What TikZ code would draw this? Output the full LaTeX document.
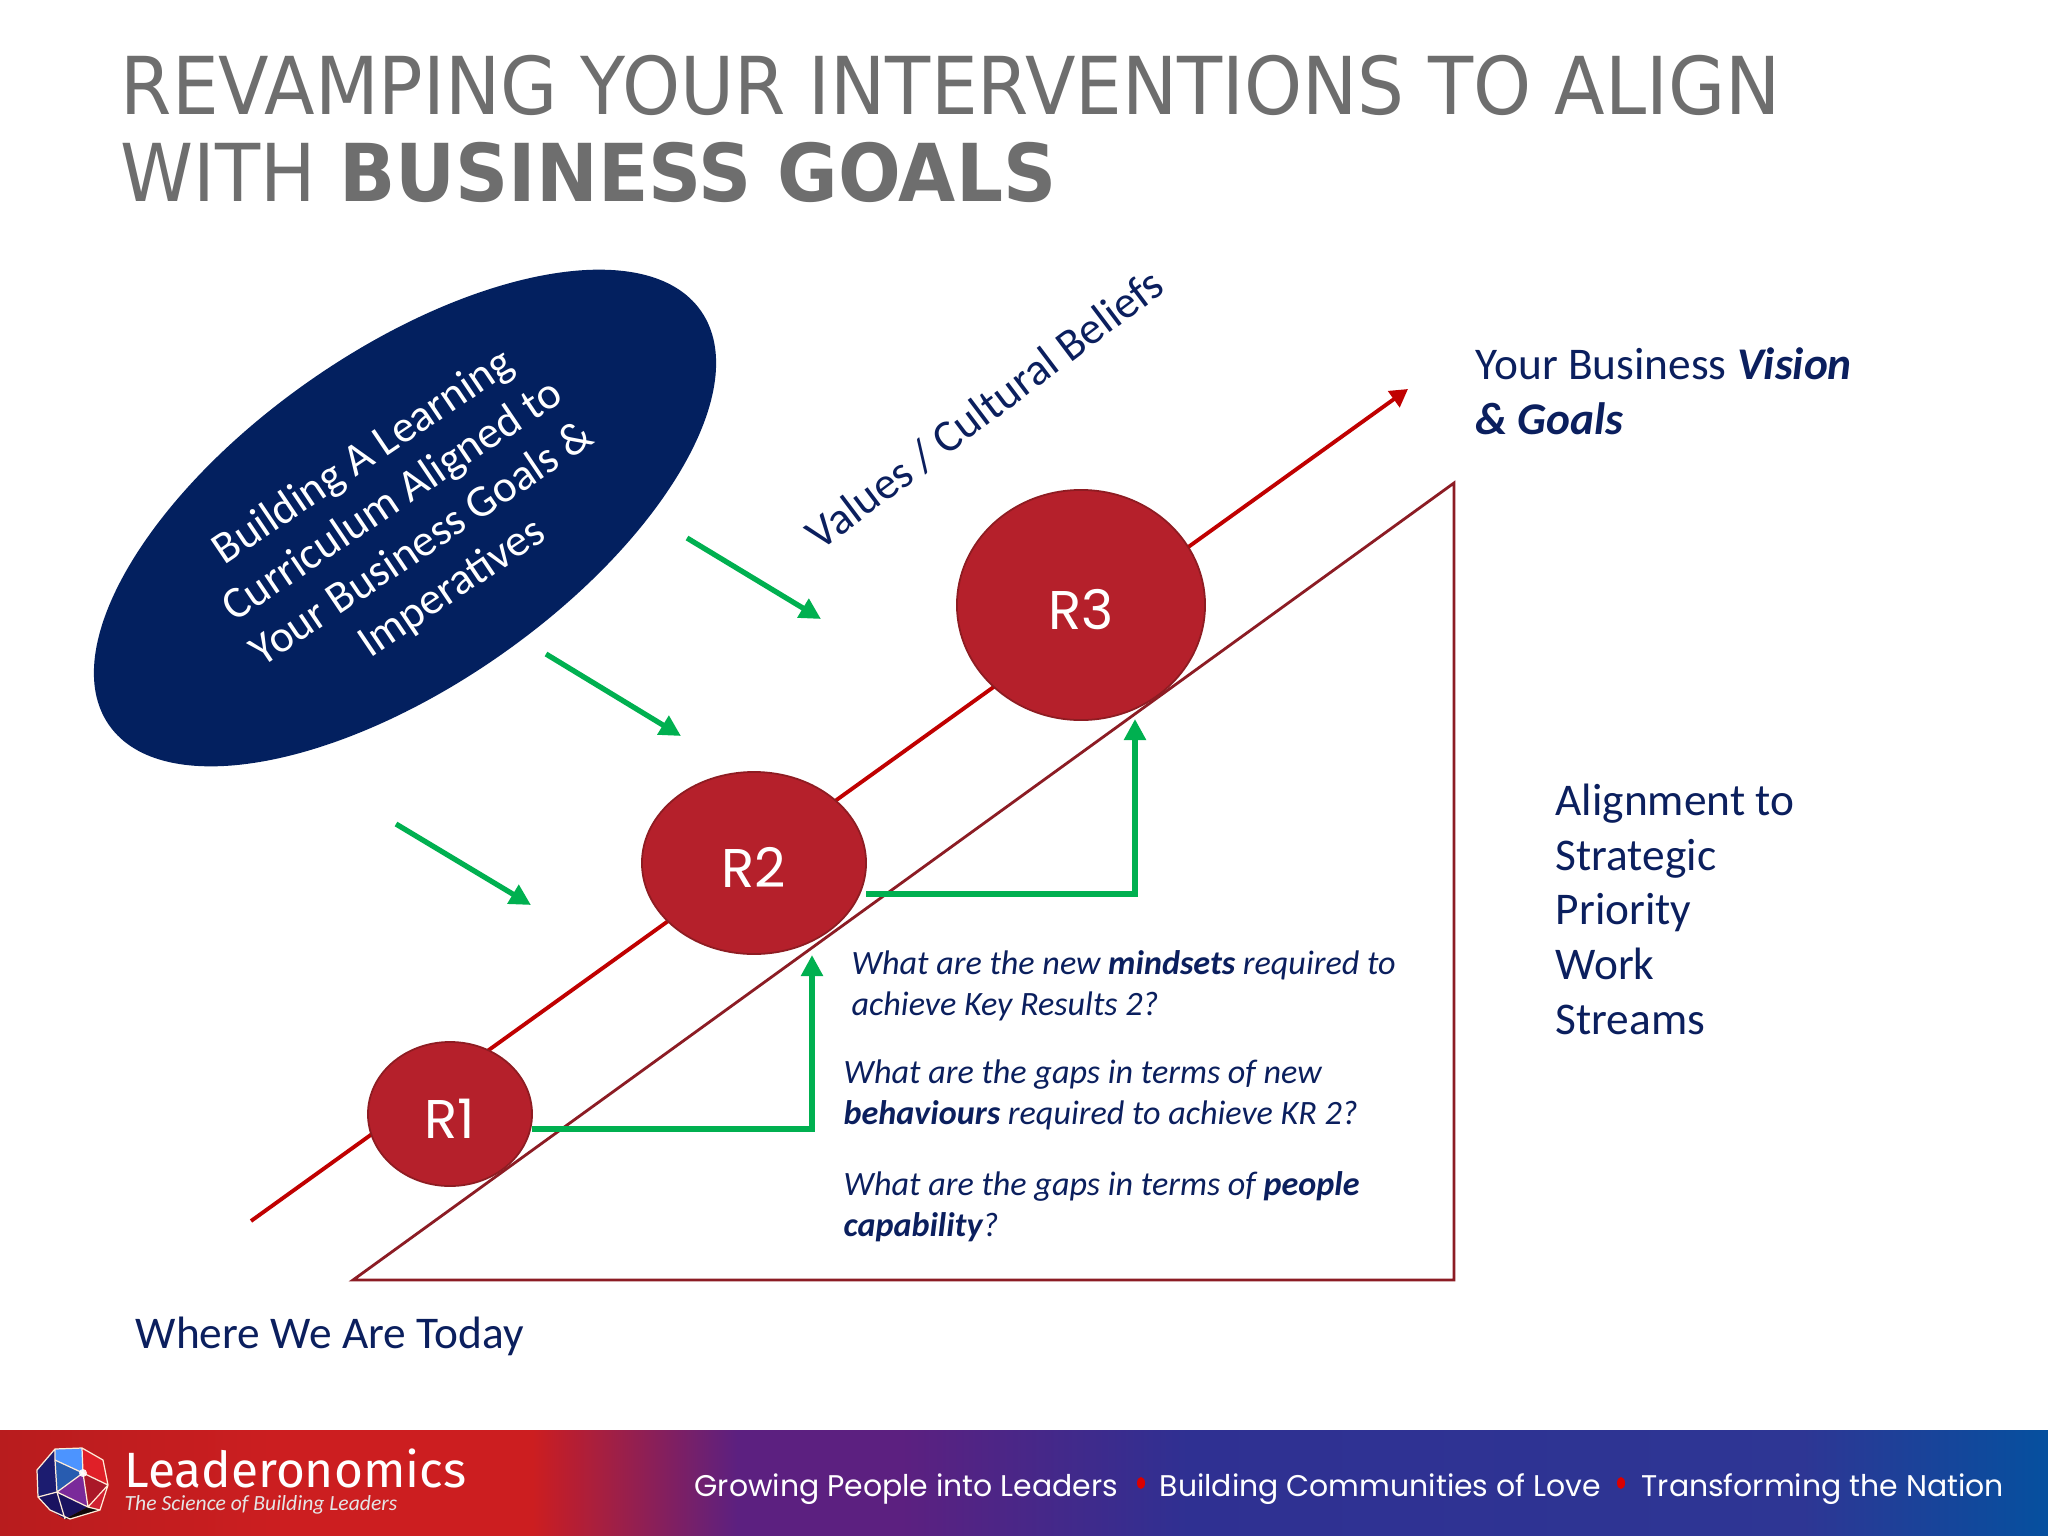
\documentclass[tikz,border=0pt]{standalone}
\usepackage{fontspec}
\setmainfont{Carlito}
\newfontfamily\titlefont[FakeStretch=0.925]{DejaVu Sans}
\newfontfamily\circfont{Poppins}
\newfontfamily\gothfont{Poppins}
\newfontfamily\logofont{Fira Sans}
\usetikzlibrary{arrows.meta,shapes.geometric}
\definecolor{navy}{HTML}{0B1F5E}
\definecolor{ellfill}{HTML}{03205F}
\definecolor{titlegray}{HTML}{6E6E6E}
\definecolor{circfill}{HTML}{B5202B}
\definecolor{circline}{HTML}{8E1C22}
\definecolor{lineRed}{HTML}{C00000}
\definecolor{triLine}{HTML}{8C1C24}
\definecolor{arrGreen}{HTML}{00B050}
\definecolor{fa}{HTML}{B81C1E}\definecolor{fb}{HTML}{CC1E20}\definecolor{fc}{HTML}{5C2080}\definecolor{fd}{HTML}{2F3092}\definecolor{fe}{HTML}{2E3694}\definecolor{ff}{HTML}{05509F}
\pgfdeclarehorizontalshading{footgrad}{100bp}{color(0bp)=(fa); color(25bp)=(fa); color(32bp)=(fb); color(38bp)=(fb); color(43bp)=(fc); color(47bp)=(fc); color(54bp)=(fd); color(69bp)=(fe); color(75bp)=(ff); color(100bp)=(ff)}
\newcommand{\circlabel}[1]{\smash{\raisebox{-6.9pt}{#1}}}
\tikzset{
 px/.style={x=0.01cm,y=-0.01cm},
 circ/.style={ellipse,draw=circline,fill=circfill,line width=0.5pt,inner sep=0pt,text=white,font=\circfont\fontsize{15.5}{18}\selectfont},
 bodytext/.style={text=navy,align=left,inner sep=0pt,anchor=north west},
 smalltext/.style={bodytext,font=\fontsize{9.7}{11.6}\selectfont\itshape},
 bigtext/.style={bodytext,font=\fontsize{12.9}{15.6}\selectfont},
 greenarrow/.style={draw=arrGreen,line width=1.5pt,-{Triangle[length=6pt,width=6pt]}},
 foot/.style={text=white,inner sep=0pt,anchor=base west,font=\gothfont\fontsize{8.5}{10}\selectfont}
}
\begin{document}
\begin{tikzpicture}[px]
\useasboundingbox (0,0) rectangle (2048,1536);
\fill[white] (0,0) rectangle (2048,1536);
% title
\node[anchor=north west,inner sep=0pt,text=titlegray,align=left,font=\titlefont\fontsize{22.7}{24.5}\selectfont] (title) at (120,55) {REVAMPING YOUR INTERVENTIONS TO ALIGN\\WITH \textbf{BUSINESS GOALS}};
% main line
\coordinate (ls) at (251,1221);
\coordinate (le) at (1408,389);
\draw[draw=lineRed,line width=1.1pt,-{Triangle[length=5pt,width=5.5pt]}] (ls) -- (le);
% triangle
\coordinate (ta) at (353,1280);\coordinate (tb) at (1454,1280);\coordinate (tc) at (1454,483);
\draw[draw=triLine,line width=0.8pt,line join=miter] (ta) -- (tb) -- (tc) -- cycle;
% ellipse
\node[ellipse,fill=ellfill,rotate=35,minimum width=7.22cm,minimum height=3.34cm,inner sep=0pt] (goal) at (405,518) {};
\node[rotate=34,text=white,align=center,inner sep=0pt,font=\fontsize{12.8}{15.0}\selectfont] (goaltext) at (408,523) {Building A Learning\\Curriculum Aligned to\\Your Business Goals \&\\Imperatives};
% circles
\node[circ,minimum width=1.64cm,minimum height=1.44cm] (R1) at (450,1114) {\circlabel{R1}};
\node[circ,minimum width=2.24cm,minimum height=1.82cm] (R2) at (754,863) {\circlabel{R2}};
\node[circ,minimum width=2.48cm,minimum height=2.30cm] (R3) at (1081,605) {\circlabel{R3}};
% slanted arrows
\coordinate (a1s) at (396,824);\coordinate (a1e) at (531,905);
\coordinate (a2s) at (546,654);\coordinate (a2e) at (681,736);
\coordinate (a3s) at (687,538);\coordinate (a3e) at (821,619);
\draw[greenarrow] (a1s) -- (a1e);
\draw[greenarrow] (a2s) -- (a2e);
\draw[greenarrow] (a3s) -- (a3e);
% elbows
\coordinate (e1s) at (532,1129);\coordinate (e1e) at (812,955);
\coordinate (e2s) at (866,894);\coordinate (e2e) at (1135,719);
\draw[greenarrow] (e1s) -| (e1e);
\draw[greenarrow] (e2s) -| (e2e);
% texts
\node[rotate=37,text=navy,inner sep=0pt,font=\fontsize{12.9}{16}\selectfont] (values) at (985,409) {Values / Cultural Beliefs};
\node[bigtext] (vision) at (1475,347) {Your Business \textbf{\textit{Vision}}\\\textbf{\textit{\& Goals}}};
\node[bigtext] (align) at (1555,783) {Alignment to\\Strategic\\Priority\\Work\\Streams};
\node[bigtext] (today) at (135,1316) {Where We Are Today};
\node[smalltext] (q1) at (851,950) {What are the new \textbf{mindsets} required to\\achieve Key Results 2?};
\node[smalltext] (q2) at (843,1059) {What are the gaps in terms of new\\\textbf{behaviours} required to achieve KR 2?};
\node[smalltext] (q3) at (843,1171) {What are the gaps in terms of \textbf{people}\\\textbf{capability}?};
% footer
\fill[shading=footgrad] (0,1430) rectangle (2048,1536);
% logo
\begin{scope}[line join=round]
\fill[fill=blue!60!cyan!70!white] (55,1449) -- (82,1448) -- (83,1473) -- (55,1460) -- cycle;
\fill[fill={rgb,255:red,28;green,28;blue,112}] (37,1470) -- (55,1449) -- (55,1460) -- (57,1492) -- (38,1497) -- cycle;
\fill[fill={rgb,255:red,40;green,92;blue,176}] (55,1460) -- (83,1473) -- (57,1492) -- cycle;
\fill[fill={rgb,255:red,224;green,32;blue,40}] (82,1448) -- (103,1460) -- (108,1485) -- (83,1473) -- cycle;
\fill[fill={rgb,255:red,170;green,24;blue,40}] (83,1473) -- (108,1485) -- (88,1507) -- cycle;
\fill[fill={rgb,255:red,208;green,32;blue,48}] (108,1485) -- (100,1510) -- (88,1507) -- cycle;
\fill[fill={rgb,255:red,122;green,42;blue,154}] (83,1473) -- (88,1507) -- (57,1492) -- cycle;
\fill[fill={rgb,255:red,26;green,18;blue,96}] (57,1492) -- (88,1507) -- (65,1519) -- (50,1510) -- (38,1497) -- cycle;
\fill[fill={rgb,255:red,16;green,8;blue,8}] (65,1519) -- (70,1519) -- (100,1510) -- (88,1507) -- cycle;
\draw[white!85!orange,line width=0.35pt] (55,1449) -- (82,1448) -- (103,1460) -- (108,1485) -- (100,1510) -- (70,1519) -- (50,1510) -- (38,1497) -- (37,1470) -- cycle
 (55,1449) -- (55,1460) -- (83,1473) -- (82,1448)
 (83,1473) -- (108,1485) -- (88,1507) -- (100,1510)
 (83,1473) -- (88,1507) -- (57,1492) -- (83,1473)
 (55,1460) -- (57,1492) -- (38,1497)
 (57,1492) -- (65,1519);
\fill[white,opacity=0.9] (83,1473) circle (4);
\end{scope}
\node[anchor=base west,inner sep=0pt,text=white,font=\logofont\fontsize{14.1}{15}\selectfont] (brand) at (124,1487) {Leaderonomics};
\node[anchor=base west,inner sep=0pt,text=white!90!black,font=\itshape\fontsize{6.15}{8}\selectfont] (tag) at (124,1510) {The Science of Building Leaders};
\node[foot] (f1) at (694,1496) {Growing People into Leaders};
\fill[red!85!black] (1141,1483) circle (4 and 6);
\node[foot] (f2) at (1159,1496) {Building Communities of Love};
\fill[red!85!black] (1621,1483) circle (4 and 6);
\node[foot] (f3) at (1641,1496) {Transforming the Nation};
\end{tikzpicture}
\end{document}
